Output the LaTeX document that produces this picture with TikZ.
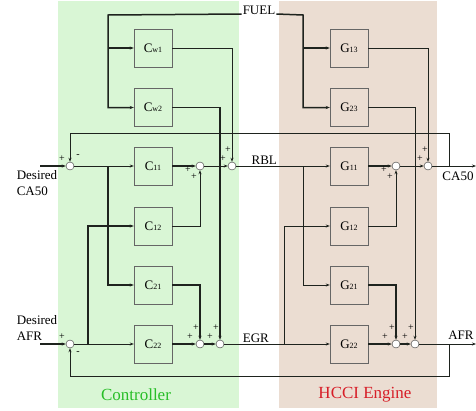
\documentclass[tikz,border=0pt]{standalone}
\usepackage{fontspec}
\setmainfont{Liberation Serif}
\usepackage{tikz}
\usepackage{xcolor}
\usetikzlibrary{arrows.meta}

\definecolor{ctrlbg}{RGB}{217,246,213}
\definecolor{engbg}{RGB}{235,221,210}
\definecolor{ctrltxt}{RGB}{40,190,40}
\definecolor{engtxt}{RGB}{215,30,40}
\definecolor{wire}{RGB}{30,35,30}

\tikzset{
blk/.style={rectangle, draw=black!60, minimum width=38pt, minimum height=38pt, inner sep=0pt, font=\fontsize{13}{15}\selectfont},
sumj/.style={circle, draw=black!80, fill=white, minimum size=8pt, inner sep=0pt},
sig/.style={draw=wire, line width=0.7pt, -{Stealth[length=4pt,width=3pt]}},
heavy/.style={line width=1.5pt},
sgn/.style={inner sep=0pt, font=\fontsize{10}{10}\selectfont},
lbl/.style={font=\fontsize{13}{16}\selectfont, inner sep=1pt},
}
\newcommand{\blkname}[2]{#1{\fontsize{8}{9}\selectfont #2}}

\begin{document}
\begin{tikzpicture}[x=1pt, y=-1pt]
\useasboundingbox (0,0) rectangle (476,410);
\fill[ctrlbg] (58,1) rectangle (239,408);
\fill[engbg] (279,1) rectangle (437,408);

\node[blk] (cw1) at (153,48) {\blkname{C}{w1}};
\node[blk] (cw2) at (153,107.5) {\blkname{C}{w2}};
\node[blk] (c11) at (153,166) {\blkname{C}{11}};
\node[blk] (c12) at (153,226) {\blkname{C}{12}};
\node[blk] (c21) at (153,285) {\blkname{C}{21}};
\node[blk] (c22) at (153,344) {\blkname{C}{22}};
\node[blk] (g13) at (349,48) {\blkname{G}{13}};
\node[blk] (g23) at (349,107.5) {\blkname{G}{23}};
\node[blk] (g11) at (349,166) {\blkname{G}{11}};
\node[blk] (g12) at (349,226) {\blkname{G}{12}};
\node[blk] (g21) at (349,285) {\blkname{G}{21}};
\node[blk] (g22) at (349,344) {\blkname{G}{22}};

\node[sumj] (e1) at (70,166) {};
\node[sumj] (a1) at (200,166) {};
\node[sumj] (a2) at (232,166) {};
\node[sumj] (e2) at (70,344) {};
\node[sumj] (b1) at (200,344) {};
\node[sumj] (b2) at (220,344) {};
\node[sumj] (p1) at (396,166) {};
\node[sumj] (p2) at (428,166) {};
\node[sumj] (q1) at (396,344) {};
\node[sumj] (q2) at (415,344) {};

\coordinate (in1) at (40,166);
\coordinate (in2) at (40,344);
\coordinate (fc) at (108,15);
\coordinate (gf) at (303,15);
\coordinate (br1) at (108,166);
\coordinate (br2) at (88,344);
\coordinate (br3) at (303,166);
\coordinate (br4) at (284,344);
\coordinate (y1) at (449,166);
\coordinate (t1) at (449,133);
\coordinate (y2) at (449,344);
\coordinate (t2) at (449,376);
\coordinate (out1) at (476,166);
\coordinate (out2) at (476,344);

\node[lbl, anchor=base] (fuel) at (259,14) {FUEL};
\node[lbl, align=left] (dca) at (37,183) {Desired\\CA50};
\node[lbl, align=left] (dafr) at (37,328) {Desired\\AFR};
\node[lbl] (ca50) at (458,176) {CA50};
\node[lbl] (afr) at (461,335) {AFR};
\node[font=\fontsize{17}{20}\selectfont, text=ctrltxt] (ctrl) at (136,395) {Controller};
\node[font=\fontsize{17}{20}\selectfont, text=engtxt] (eng) at (365,395) {HCCI Engine};

\draw[sig, heavy] (fuel.base west) -- (fc) |- (cw2);
\draw[sig, heavy] (fc |- cw1) -- (cw1);
\draw[sig, heavy] (fuel.base east) -- (gf) |- (g23);
\draw[sig, heavy] (gf |- g13) -- (g13);

\draw[sig, heavy] (in1) -- (e1);
\draw[sig] (e1) -- (c11);
\draw[sig, heavy] (c11) -- (a1);
\draw[sig] (a1) -- (a2);
\draw[sig] (a2) -- node[lbl, above, pos=0.3] (rbl) {RBL} (g11);
\draw[sig, heavy] (br1) |- (c21);
\draw[sig] (c12) -| (a1);
\draw[sig] (cw1) -| (a2);

\draw[sig, heavy] (in2) -- (e2);
\draw[sig] (e2) -- (c22);
\draw[sig, heavy] (c22) -- (b1);
\draw[sig, heavy] (b1) -- (b2);
\draw[sig] (b2) -- node[lbl, above, pos=0.3] (egr) {EGR} (g22);
\draw[sig, heavy] (br2) |- (c12);
\draw[sig, heavy] (c21) -| (b1);
\draw[sig, heavy] (cw2) -| (b2);

\draw[sig, heavy] (g11) -- (p1);
\draw[sig] (p1) -- (p2);
\draw[sig] (p2) -- (out1);
\draw[sig] (br3) |- (g21);
\draw[sig] (br4) |- (g12);
\draw[sig] (g12) -| (p1);
\draw[sig] (g13) -| (p2);
\draw[sig, heavy] (g21) -| (q1);
\draw[sig] (g23) -| (q2);
\draw[sig, heavy] (g22) -- (q1);
\draw[sig, heavy] (q1) -- (q2);
\draw[sig] (q2) -- (out2);

\draw[sig] (y1) -- (t1) -| (e1);
\draw[sig] (y2) -- (t2) -| (e2);

\node[sgn] (s1) at (62,159) {+};
\node[sgn] (s2) at (78,156) {-};
\node[sgn] (s3) at (62,337) {+};
\node[sgn] (s4) at (78,353) {-};
\node[sgn] (s5) at (188,170) {+};
\node[sgn] (s6) at (194,177) {+};
\node[sgn] (s7) at (228,150) {+};
\node[sgn] (s8) at (223,159) {+};
\node[sgn] (s9) at (196,328) {+};
\node[sgn] (s10) at (190,337) {+};
\node[sgn] (s11) at (216,328) {+};
\node[sgn] (s12) at (210,337) {+};
\node[sgn] (s13) at (384,170) {+};
\node[sgn] (s14) at (390,177) {+};
\node[sgn] (s15) at (425,150) {+};
\node[sgn] (s16) at (420,159) {+};
\node[sgn] (s17) at (392,328) {+};
\node[sgn] (s18) at (385,337) {+};
\node[sgn] (s19) at (411,328) {+};
\node[sgn] (s20) at (405,337) {+};
\end{tikzpicture}
\end{document}
